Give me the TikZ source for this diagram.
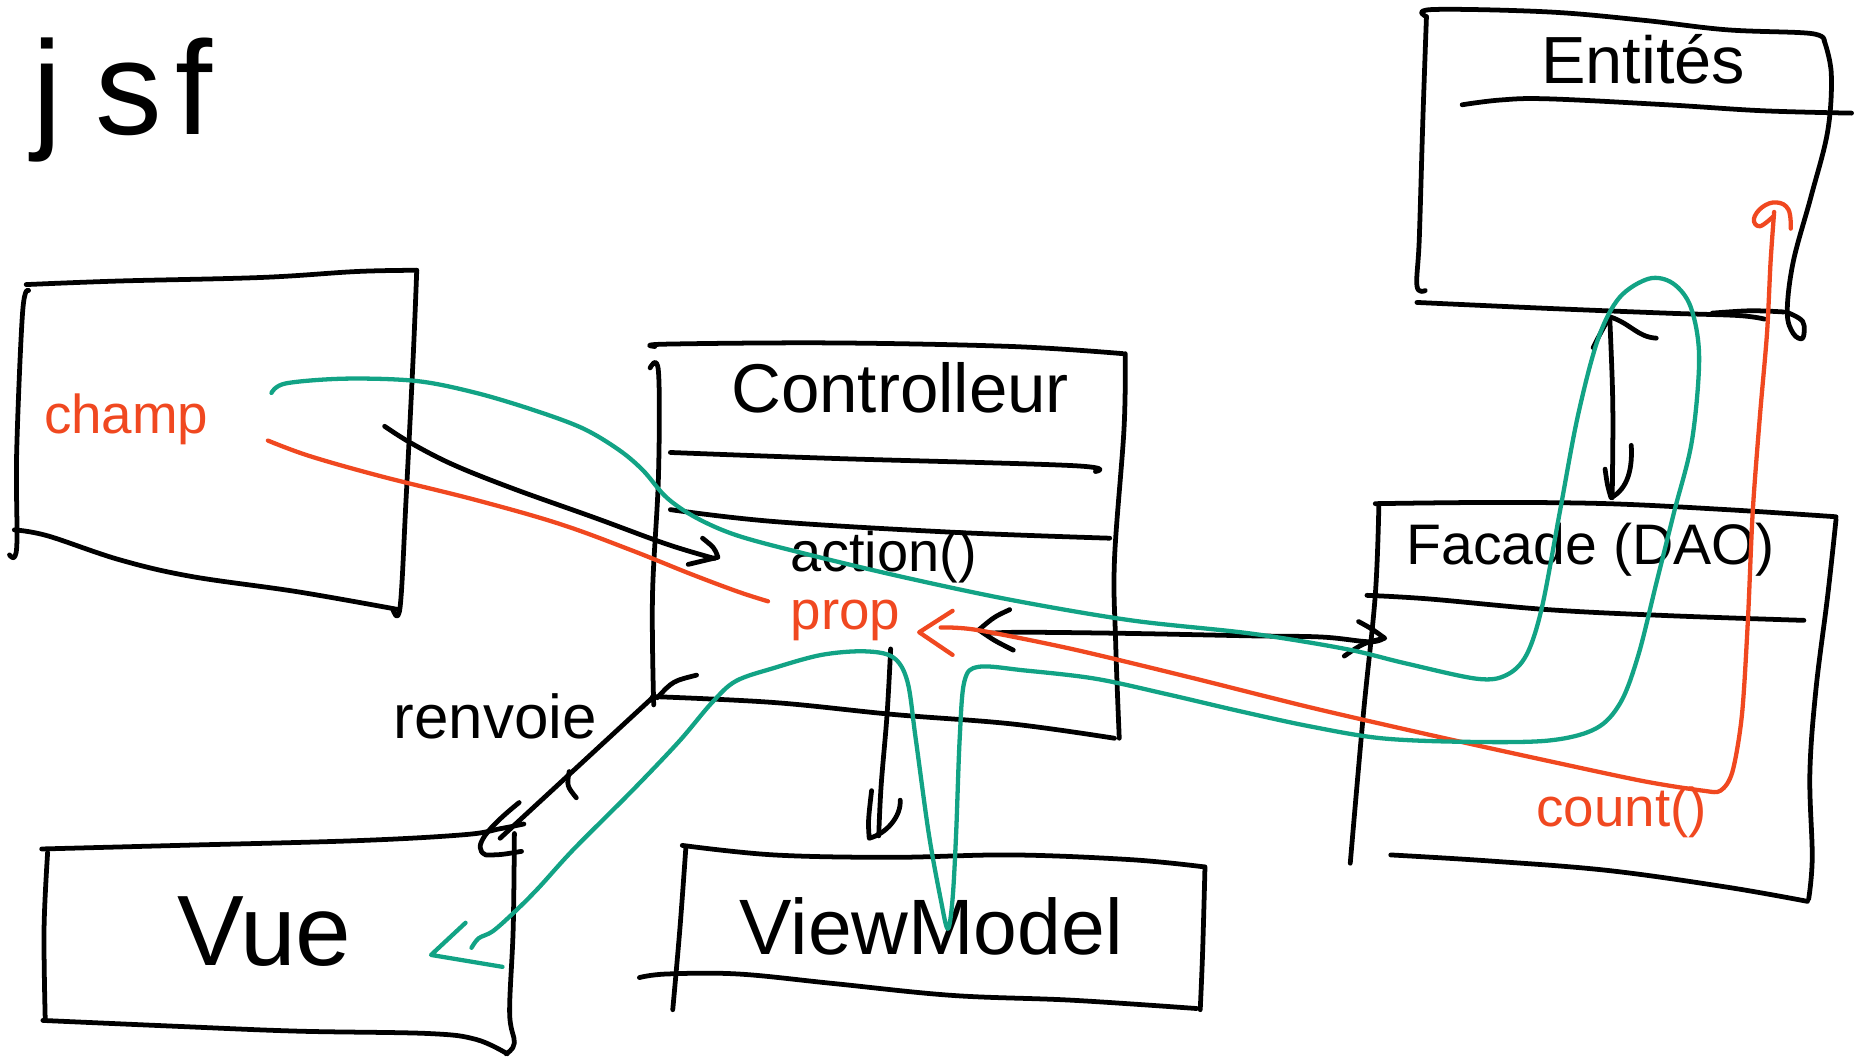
\documentclass[tikz,border=0pt]{standalone}
\usepackage{fontspec}
\setmainfont{Liberation Sans}
\definecolor{inkgreen}{RGB}{18,163,133}
\definecolor{inkred}{RGB}{240,72,32}
\newcommand{\myfs}[1]{\fontsize{#1}{#1}\selectfont}
\tikzset{
  ink/.style={line width=4pt, line cap=round, line join=round, draw=black},
  gink/.style={line width=3.6pt, line cap=round, line join=round, draw=inkgreen},
  rink/.style={line width=3.6pt, line cap=round, line join=round, draw=inkred},
  lbl/.style={inner sep=0pt, text=black},
  rlbl/.style={inner sep=0pt, text=inkred},
}
\begin{document}
\begin{tikzpicture}[x=1pt,y=-1pt]
\useasboundingbox (0,0) rectangle (1568,887);

% ---------- labels ----------
\node[lbl, font=\myfs{112}] (jsf) at (103,84) {j\hspace{0.25em}s\hspace{0.1em}f};
\node[rlbl, font=\myfs{46}] (champ) at (106,352) {champ};
\node[lbl, font=\myfs{58}] (ctrl) at (756,326) {Controlleur};
\node[lbl, font=\myfs{47}] (action) at (742,468) {action()};
\node[rlbl, font=\myfs{46}] (prop) at (710,521) {prop};
\node[lbl, font=\myfs{52}] (renvoie) at (416,602) {renvoie};
\node[lbl, font=\myfs{84}] (vue) at (222,782) {Vue};
\node[lbl, font=\myfs{66}] (vm) at (782,778) {ViewModel};
\node[lbl, font=\myfs{48}] (facade) at (1336,462) {Facade (DAO)};
\node[rlbl, font=\myfs{46}] (count) at (1362,682) {count()};
\node[lbl, font=\myfs{56}] (ent) at (1380,50) {Entités};

% ---------- boxes ----------
% champ box
\draw[ink] plot[smooth, tension=0.6] coordinates {(22,239) (100,236) (220,233) (300,228) (350,227)};
\draw[ink] plot[smooth, tension=0.6] coordinates {(350,227) (347,300) (341,420) (336,510) (330,512)};
\draw[ink] plot[smooth, tension=0.6] coordinates {(12,445) (40,450) (100,470) (160,484) (250,497) (335,512)};
\draw[ink] plot[smooth, tension=0.6] coordinates {(24,244) (19,262) (14,380) (14,460) (8,466)};
% controller box
\draw[ink] plot[smooth, tension=0.6] coordinates {(550,291) (560,289) (700,288) (850,291) (943,297)};
\draw[ink] plot[smooth, tension=0.6] coordinates {(945,297) (944,360) (936,470) (937,540) (940,620)};
\draw[ink] plot[smooth, tension=0.6] coordinates {(548,585) (650,590) (750,600) (850,608) (936,620)};
\draw[ink] plot[smooth, tension=0.6] coordinates {(546,309) (553,312) (553,400) (548,500) (549,592)};
\draw[ink] plot[smooth, tension=0.6] coordinates {(563,380) (700,385) (900,391) (920,396)};
\draw[ink] plot[smooth, tension=0.6] coordinates {(563,428) (650,438) (800,447) (932,452)};
% Vue box
\draw[ink] plot[smooth, tension=0.6] coordinates {(35,713) (150,710) (300,706) (390,701) (420,696) (440,692)};
\draw[ink] plot[smooth, tension=0.6] coordinates {(432,700) (431,780) (428,850) (432,876) (425,885)};
\draw[ink] plot[smooth, tension=0.6] coordinates {(36,857) (150,862) (250,866) (360,868) (400,873) (426,885)};
\draw[ink] plot[smooth, tension=0.6] coordinates {(40,716) (37,780) (38,857)};
% ViewModel box
\draw[ink] plot[smooth, tension=0.6] coordinates {(573,710) (650,718) (750,720) (850,718) (950,722) (1011,728)};
\draw[ink] plot[smooth, tension=0.6] coordinates {(576,712) (571,780) (565,848)};
\draw[ink] plot[smooth, tension=0.6] coordinates {(537,821) (560,818) (620,818) (700,826) (800,836) (900,840) (1005,847)};
\draw[ink] plot[smooth, tension=0.6] coordinates {(1012,728) (1010,800) (1008,848)};
% Facade box
\draw[ink] plot[smooth, tension=0.6] coordinates {(1155,423) (1250,422) (1350,423) (1450,428) (1542,434)};
\draw[ink] plot[smooth, tension=0.6] coordinates {(1158,425) (1155,500) (1145,600) (1134,725)};
\draw[ink] plot[smooth, tension=0.6] coordinates {(1148,500) (1200,503) (1300,512) (1400,517) (1515,521)};
\draw[ink] plot[smooth, tension=0.6] coordinates {(1542,436) (1535,500) (1525,580) (1520,650) (1522,720) (1519,755)};
\draw[ink] plot[smooth, tension=0.6] coordinates {(1168,718) (1250,723) (1350,731) (1450,745) (1518,757)};
% Entites box
\draw[ink] plot[smooth, tension=0.6] coordinates {(1198,14) (1203,8) (1300,10) (1380,17) (1450,25) (1520,28) (1532,34)};
\draw[ink] plot[smooth, tension=0.6] coordinates {(1532,34) (1538,62) (1535,110) (1521,165) (1506,220) (1501,262) (1506,280) (1514,284) (1514,270) (1500,262)};
\draw[ink] plot[smooth, tension=0.6] coordinates {(1198,14) (1195,100) (1192,200) (1190,240) (1197,244)};
\draw[ink] plot[smooth, tension=0.6] coordinates {(1228,88) (1260,84) (1300,83) (1400,88) (1480,93) (1555,95)};
\draw[ink] plot[smooth, tension=0.6] coordinates {(1190,254) (1300,259) (1400,263) (1460,265) (1482,268)};
\draw[ink] plot[smooth, tension=0.6] coordinates {(1438,263) (1470,261) (1498,262)};

% ---------- named anchors for connectors ----------
\coordinate (champB) at (323,358);
\coordinate (actionIn) at (600,469);
\coordinate (ctrlR) at (828,532);
\coordinate (facL) at (1162,536);
\coordinate (ctrlD) at (748,545);
\coordinate (vmU) at (738,702);
\coordinate (ctrlC) at (549,585);
\coordinate (vueC) at (420,704);
\coordinate (entB) at (1352,268);
\coordinate (facT) at (1354,418);

% ---------- black connectors ----------
% champ -> action
\draw[ink] plot[smooth, tension=0.6] coordinates {(champB) (345,372) (380,390) (430,410) (500,435) (560,457) (actionIn)};
\draw[ink] (590,452) .. controls (600,460) .. (603,468) -- (578,474);
% controller <-> facade
\draw[ink] plot[smooth, tension=0.6] coordinates {(ctrlR) (860,531) (950,532) (1050,534) (1110,535) (1150,539) (facL)};
\draw[ink] (1141,522) .. controls (1152,528) .. (1163,536) .. controls (1145,540) .. (1129,551);
\draw[ink] (848,512) .. controls (835,518) .. (822,529) .. controls (835,538) .. (851,546);
% controller -> viewmodel
\draw[ink] plot[smooth, tension=0.6] coordinates {(ctrlD) (745,600) (740,660) (vmU)};
\draw[ink] (732,664) .. controls (729,690) .. (730,704) .. controls (745,700) and (757,685) .. (756,672);
% renvoie : controller <-> vue
\draw[ink] (ctrlC) -- (vueC);
\draw[ink] (552,586) .. controls (565,572) .. (585,567);
\draw[ink] (436,674) .. controls (410,695) and (395,712) .. (408,718) .. controls (420,718) .. (438,715);
\draw[ink] (478,648) .. controls (476,660) .. (484,670);
% entites <-> facade
\draw[ink] (entB) .. controls (1355,340) .. (facT);
\draw[ink] (1338,292) .. controls (1345,278) .. (1352,266) .. controls (1370,272) and (1375,283) .. (1391,284);
\draw[ink] (1348,394) .. controls (1350,408) .. (1353,418) .. controls (1368,410) and (1371,392) .. (1370,374);

% ---------- red connectors ----------
\coordinate (champR) at (225,370);
\coordinate (propL) at (645,505);
\coordinate (propR) at (772,531);
\draw[rink] plot[smooth, tension=0.6] coordinates {(champR) (260,383) (320,400) (400,420) (470,440) (530,462) (580,482) (620,497) (propL)};
\draw[rink] plot[smooth, tension=0.5] coordinates {(1490,178) (1487,220) (1484,280) (1478,350) (1472,430) (1468,520) (1463,600) (1455,648) (1445,664) (1430,664) (1380,656) (1300,639) (1200,617) (1100,594) (1000,569) (900,545) (820,529) (790,527)};
\draw[rink] (800,513) -- (propR) -- (800,550);
\draw[rink] plot[smooth, tension=0.7] coordinates {(1489,182) (1478,190) (1473,184) (1480,174) (1492,170) (1502,176) (1504,192)};

% ---------- green trace ----------
\draw[gink] plot[smooth, tension=0.55] coordinates {(228,330) (240,322) (290,318) (350,320) (400,330) (450,345) (490,360) (520,378) (540,395) (560,418) (585,435) (620,450) (680,466) (760,485) (850,504) (950,521) (1050,532) (1130,545) (1180,557) (1240,570) (1265,567) (1282,550) (1295,510) (1310,430) (1325,350) (1342,285) (1360,250) (1385,234) (1405,238) (1420,258) (1427,300) (1421,370) (1406,430) (1391,490) (1376,550) (1361,590) (1340,612) (1300,622) (1230,623) (1160,620) (1100,610) (1040,597) (980,583) (920,570) (860,563) (822,560) (810,572) (806,620) (803,700) (800,755) (796,780) (790,755) (780,700) (769,620) (762,572) (750,552) (726,547) (690,550) (650,561) (618,572) (598,590) (570,623) (530,665) (482,713) (452,746) (432,766) (414,782) (402,788) (396,796)};
\draw[gink] (391,775) -- (362,802) -- (422,812);

\end{tikzpicture}
\end{document}
